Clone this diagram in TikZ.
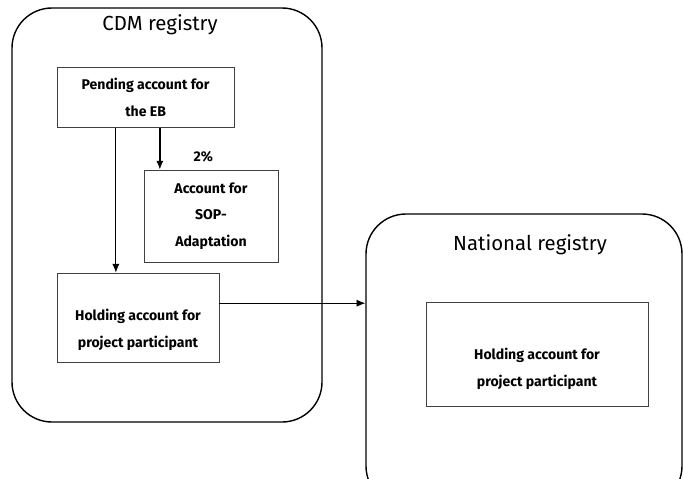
\documentclass[tikz,border=0pt]{standalone}
\usepackage{fontspec}
\setmainfont{Fira Sans}
\usetikzlibrary{arrows.meta,calc,positioning}

\begin{document}
\begin{tikzpicture}[every node/.style={font=\small},
    registry/.style={draw, line width=1pt, rounded corners=1cm, inner sep=0pt},
    acctext/.style={align=center, inner sep=0pt, font=\bfseries\fontsize{10}{19}\selectfont},
    account/.style={draw=black!75, line width=0.6pt, acctext},
    regtitle/.style={font=\fontsize{14.5}{16}\selectfont}]
  \useasboundingbox (0,0) rectangle (17.1,-11.95);
  % CDM registry
  \node[registry, minimum width=7.75cm, minimum height=10.35cm] (cdm) at (4.175,-5.375) {};
  \node[regtitle] (cdmtitle) at (4.0,-0.62) {CDM registry};
  \node[account, minimum width=4.43cm, minimum height=1.5cm] (pending) at (3.64,-2.43)
    {Pending account for\\the EB};
  \node[account, minimum width=3.35cm, minimum height=2.3cm] (sop) at (5.275,-5.4)
    {Account for\\SOP-\\Adaptation};
  \node[account, minimum width=4.05cm, minimum height=2.23cm,
    label={[acctext, yshift=-0.3cm]center:Holding account for\\project participant}]
    (holding) at (3.45,-7.94) {};
  % National registry
  \node[registry, minimum width=7.9cm, minimum height=7.3cm] (nat) at (13.1,-9.0) {};
  \node[regtitle] (nattitle) at (13.25,-6.12) {National registry};
  \node[account, minimum width=5.55cm, minimum height=2.58cm,
    label={[acctext, yshift=-0.37cm]center:Holding account for\\project participant}]
    (natholding) at (13.425,-8.86) {};
  % transfers
  \coordinate (share) at ($(pending.south west)!0.58!(pending.south east)$);
  \coordinate (rest) at ($(pending.south west)!0.333!(pending.south east)$);
  \coordinate (out) at ($(holding.east)+(0,0.36)$);
  \draw[line width=1pt, -{Latex[length=2.2mm,width=1.8mm]}] (share) -- (share |- sop.north);
  \node (pct) at (5.08,-3.93) {\bfseries\fontsize{10}{12}\selectfont 2\%};
  \draw[line width=0.6pt, -{Latex[length=2.2mm,width=1.8mm]}] (rest) -- (rest |- holding.north);
  \draw[line width=0.6pt, -{Latex[length=2.2mm,width=1.8mm]}] (out) -- (out -| nat.west);
\end{tikzpicture}
\end{document}
